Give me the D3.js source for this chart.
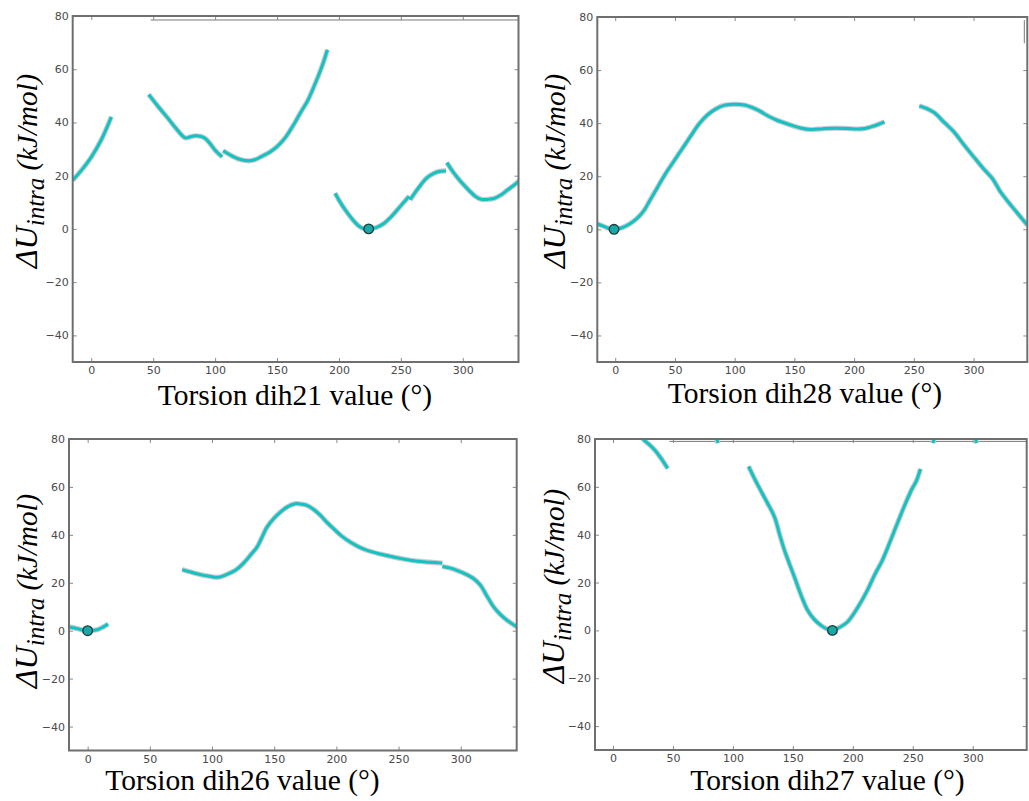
<!DOCTYPE html>
<html>
<head>
<meta charset="utf-8">
<script src="https://cdn.jsdelivr.net/npm/d3@7"></script>
<style>
  html, body { margin: 0; padding: 0; background: #fff; }
  svg { display: block; }
</style>
</head>
<body>
<svg id="chart" width="1029" height="801"></svg>
<script>
// ---------------- DATA ----------------
const xTicks = [0, 50, 100, 150, 200, 250, 300];
const yTicks = [-40, -20, 0, 20, 40, 60, 80];
const xDomain = [-15, 345];
const yDomain = [-50, 80];

const xLabels = [
  "Torsion dih21 value (°)",
  "Torsion dih28 value (°)",
  "Torsion dih26 value (°)",
  "Torsion dih27 value (°)"
];

// dih21: segments of [torsion, ΔU]
const dih21Segments = [
  [[-15,18.3],[-8,22],[0,27],[8,33.4],[16.2,42.1]],
  [[46.4,50.5],[54,46],[61,42.1],[68,38],[76,34.2],[80,34.6],[84,35],[88,34.8],[92,34],[96,32],[100,29.6],[105.7,27.1]],
  [[106.5,29.4],[115,27.1],[121,26],[127,25.6],[132,26],[137,27.1],[144,28.8],[150,30.9],[157,34.5],[164,39.6],[170,44.5],[175,48.4],[183,57.1],[187,62],[190.7,67.3]],
  [[196.9,13.4],[202,9.3],[207,5.9],[212,3],[216,1.1],[220,0.1],[224,0],[230,0.5],[236.5,2.1],[242,4.5],[247,7.1],[252,9.8],[256.7,12.3]],
  [[257.5,10.9],[262,14],[266,16.5],[271,19.2],[277,21],[282,21.7],[286.4,21.8]],
  [[287.2,24.9],[292,21.5],[298.5,17.7],[305,14.5],[310,12.3],[315,11.1],[320,11.1],[325.5,11.5],[331,12.8],[336,14.6],[341,16.3],[346,18.2]]
];
const dih21Min = [224, 0];
const dih21Extra = [[[48,78.5],[345,78.5]]];

// dih28
const dih28Segments = [
  [[-15,2.0],[-10,1.2],[-5,0.3],[-1,0],[5.6,0.6],[12,2],[18,4],[24,7],[29,10.9],[35,15.5],[42,20.9],[49,25.6],[56,30.3],[63,35],[70,39.6],[77,43],[84,45.3],[91,46.7],[99,47.1],[105,47],[111,46.5],[120,44.8],[128,42.7],[136,41],[145,39.6],[155,38.2],[164,37.6],[174,37.9],[184,38.1],[194,38],[203,37.8],[209,38],[214,38.6],[220,39.5],[225.4,40.5]],
  [[254.6,46.5],[261,45.5],[267,44],[275,40.5],[284,36.5],[292,31.8],[300.5,27.1],[308,23],[316,19],[322,14.5],[328,10.9],[336,6.5],[345,1.6]]
];
const dih28Min = [-1, 0];
const dih28Extra = [[[342.5,78.8],[342.5,70.1]]];

// dih26
const dih26Segments = [
  [[-15,1.6],[-8,0.8],[-3,0.1],[0.2,0],[4,0.1],[8.3,0.5],[12,1.4],[16.4,2.8]],
  [[76,25.5],[84,24.3],[91.5,23.3],[98,22.7],[105,22.3],[112,23.5],[118.5,25.1],[125,28],[131.8,32.1],[136.2,34.9],[140,38.8],[144.2,43.2],[150,47],[155,49.5],[161,51.8],[167,53],[172,52.8],[176.3,52.3],[182,50.5],[187.2,48.1],[192,45.4],[197.9,42.5],[204,39.6],[211.4,36.9],[218,35],[224.8,33.5],[235,32],[246.2,30.7],[255,29.8],[265.1,29],[275,28.6],[285.2,28.2]],
  [[285.2,26.8],[291,26.2],[297.3,25.1],[304,23.6],[310.7,21.6],[316.1,18.8],[321,14.5],[326.8,9.7],[332,6.7],[337.6,4.2],[346,1.3]]
];
const dih26Min = [0, 0];
const dih26Extra = [];

// dih27
const dih27Segments = [
  [[20,84],[25.4,79.8],[30,77.8],[35,75.3],[40,72],[45.6,67.7]],
  [[113.1,68.6],[117,64.5],[120.8,60.7],[128,54],[134.7,47.4],[139,40],[143,33.5],[147,28],[151.3,22.3],[157,14.5],[162.3,8.4],[168,4.5],[173.4,2.1],[178,0.7],[183,0],[189,1.3],[195.5,3.5],[204,9.5],[212.1,16.7],[218,23],[224.6,29.3],[231,37],[237,44.6],[243,52],[249.5,59.3],[253,62.5],[256.4,67.5]],
  [[86.3,80.5],[87.6,78.3]],
  [[266.8,78.3],[268,80.5]],
  [[301.8,80.5],[303.4,78.3]]
];
const dih27Min = [183, 0];
const dih27Extra = [[[47,79],[345,79]]];

// ---------------- LAYOUT ----------------
const panels = [
  { segs: dih21Segments, min: dih21Min, extra: dih21Extra, label: xLabels[0],
    l: 72.7, r: 518.5, t: 16, b: 362, xl: [295, 405], yl: [37, 171] },
  { segs: dih28Segments, min: dih28Min, extra: dih28Extra, label: xLabels[1],
    l: 597.3, r: 1027.3, t: 17, b: 362, xl: [805, 403], yl: [565, 171] },
  { segs: dih26Segments, min: dih26Min, extra: dih26Extra, label: xLabels[2],
    l: 69, r: 516.7, t: 439, b: 750.5, xl: [242.5, 790], yl: [37, 591] },
  { segs: dih27Segments, min: dih27Min, extra: dih27Extra, label: xLabels[3],
    l: 595, r: 1026.7, t: 439, b: 750, xl: [827.5, 790], yl: [564, 586] }
];

const svg = d3.select("#chart");
const fmt = d3.format("d");
const cyan = "#13c2c2";
const SERIF = "Liberation Serif";

panels.forEach((p, i) => {
  const x = d3.scaleLinear().domain(xDomain).range([p.l, p.r]);
  const y = d3.scaleLinear().domain(yDomain).range([p.b, p.t]);
  const g = svg.append("g");

  const clipId = "clip" + i;
  svg.append("defs").append("clipPath").attr("id", clipId)
    .append("rect").attr("x", p.l).attr("y", p.t)
    .attr("width", p.r - p.l).attr("height", p.b - p.t);

  // ticks (inward, all four sides)
  const tl = 4;
  const tc = "#8a8a8a";
  g.append("g").attr("transform", `translate(0,${p.b})`)
    .call(d3.axisBottom(x).tickValues(xTicks).tickSize(-tl).tickPadding(4.5).tickFormat(fmt))
    .call(a => a.select(".domain").remove())
    .call(a => a.selectAll("line").attr("stroke", tc))
    .call(a => a.selectAll("text").attr("font-family", "DejaVu Sans").attr("font-size", 11).attr("fill", "#4a4a4a"));
  g.append("g").attr("transform", `translate(0,${p.t})`)
    .call(d3.axisTop(x).tickValues(xTicks).tickSize(-tl).tickFormat(""))
    .call(a => a.select(".domain").remove())
    .call(a => a.selectAll("line").attr("stroke", tc));
  g.append("g").attr("transform", `translate(${p.l},0)`)
    .call(d3.axisLeft(y).tickValues(yTicks).tickSize(-tl).tickPadding(4).tickFormat(fmt))
    .call(a => a.select(".domain").remove())
    .call(a => a.selectAll("line").attr("stroke", tc))
    .call(a => a.selectAll("text").attr("font-family", "DejaVu Sans").attr("font-size", 11).attr("fill", "#4a4a4a"));
  g.append("g").attr("transform", `translate(${p.r},0)`)
    .call(d3.axisRight(y).tickValues(yTicks).tickSize(-tl).tickFormat(""))
    .call(a => a.select(".domain").remove())
    .call(a => a.selectAll("line").attr("stroke", tc));

  const line = d3.line().x(d => x(d[0])).y(d => y(d[1])).curve(d3.curveCatmullRom.alpha(0.5));
  const plot = g.append("g").attr("clip-path", `url(#${clipId})`);

  // extra thin artifact lines
  plot.selectAll("path.extra").data(p.extra).join("path")
    .attr("class", "extra").attr("d", line)
    .attr("fill", "none").attr("stroke", "#7a7a7a").attr("stroke-width", 1);

  // halo + cyan curve
  plot.selectAll("path.halo").data(p.segs).join("path")
    .attr("class", "halo").attr("d", line)
    .attr("fill", "none").attr("stroke", "#c4cccc").attr("stroke-width", 5.2)
    .attr("stroke-linecap", "butt");
  plot.selectAll("path.curve").data(p.segs).join("path")
    .attr("class", "curve").attr("d", line)
    .attr("fill", "none").attr("stroke", cyan).attr("stroke-width", 3)
    .attr("stroke-linecap", "butt");

  // minimum marker
  plot.append("circle")
    .attr("cx", x(p.min[0])).attr("cy", y(p.min[1])).attr("r", 4.8)
    .attr("fill", "#17a9a9").attr("stroke", "#1e3a3a").attr("stroke-width", 1.3);

  // frame
  g.append("rect").attr("x", p.l).attr("y", p.t)
    .attr("width", p.r - p.l).attr("height", p.b - p.t)
    .attr("fill", "none").attr("stroke", "#6f6f6f").attr("stroke-width", 2);

  // x label
  g.append("text").attr("x", p.xl[0]).attr("y", p.xl[1])
    .attr("text-anchor", "middle")
    .attr("font-family", SERIF).attr("font-size", 29.5)
    .attr("fill", "#000").text(p.label);

  // y label (rotated)
  const yt = g.append("text")
    .attr("transform", `translate(${p.yl[0]},${p.yl[1]}) rotate(-90)`)
    .attr("text-anchor", "middle")
    .attr("font-family", SERIF).attr("font-style", "italic")
    .attr("font-size", 32).attr("fill", "#000");
  yt.append("tspan").text("ΔU");
  yt.append("tspan").attr("font-size", 25).attr("dy", 7).text("intra");
  yt.append("tspan").attr("font-size", 29).attr("dy", -7).text(" (kJ/mol)");
});
</script>
</body>
</html>
